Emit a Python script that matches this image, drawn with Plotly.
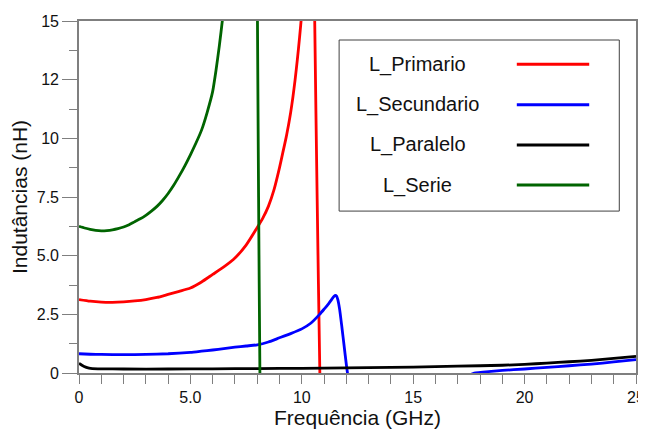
import plotly.graph_objects as go

# ---- data ----
series_names = ["L_Primario", "L_Secundario", "L_Paralelo", "L_Serie"]
series_colors = ["#ff0000", "#0000ff", "#000000", "#006400"]

# L_Primario (red)
prim_f = [0, 0.5, 1, 1.5, 2, 2.5, 3, 3.5, 4, 4.5, 5, 5.5, 6, 6.5, 7, 7.5, 8, 8.25, 8.5, 8.75,
          9, 9.15, 9.3, 9.4, 9.5, 9.6, 9.7, 9.8, 9.9, 10.0, 10.1,
          None,
          10.5, 10.58, 10.69, 10.81, 10.84]
prim_l = [3.13, 3.06, 3.02, 3.01, 3.03, 3.07, 3.13, 3.22, 3.35, 3.48, 3.62, 3.88, 4.2, 4.52, 4.9, 5.45, 6.2, 6.6, 7.1, 7.8,
          8.75, 9.4, 10.05, 10.55, 11.1, 11.75, 12.5, 13.35, 14.3, 15.35, 16.6,
          None,
          25.0, 15.0, 7.4, 0.0, -1.0]

# L_Secundario (blue)
sec_f = [0, 0.5, 1, 2, 3, 4, 5, 5.5, 6, 6.5, 7, 7.5, 8, 8.5, 9, 9.5, 10, 10.4, 10.8, 11.0, 11.2,
         11.35, 11.45, 11.51, 11.56, 11.62, 11.7, 11.8, 11.9, 12.0, 12.05, 12.1,
         None,
         17.6, 17.74, 18.5, 19, 20, 21, 22, 23, 24, 25]
sec_l = [0.82, 0.8, 0.79, 0.78, 0.79, 0.82, 0.88, 0.93, 0.98, 1.04, 1.1, 1.15, 1.2, 1.32, 1.5, 1.68, 1.88, 2.12, 2.5, 2.72, 2.95,
         3.15, 3.27, 3.31, 3.28, 3.12, 2.7, 1.95, 1.15, 0.35, 0.0, -0.4,
         None,
         -0.05, 0.0, 0.07, 0.11, 0.17, 0.24, 0.31, 0.38, 0.47, 0.57]

# L_Paralelo (black)
par_f = [0, 0.05, 0.15, 0.3, 0.45, 0.6, 1, 2, 4, 6, 8, 10, 12, 14, 16, 18, 19, 20, 21, 22, 23, 24, 25]
par_l = [0.4, 0.38, 0.32, 0.25, 0.21, 0.19, 0.18, 0.17, 0.17, 0.18, 0.19, 0.2, 0.22, 0.24, 0.27, 0.31, 0.33, 0.37, 0.42, 0.48, 0.54, 0.62, 0.71]

# L_Serie (green)
serie_f = [0, 0.25, 0.5, 0.75, 1, 1.25, 1.5, 1.75, 2, 2.25, 2.5, 2.75, 3, 3.25, 3.5, 3.75, 4, 4.25, 4.5, 4.75,
           5, 5.25, 5.5, 5.75, 6, 6.15, 6.3, 6.45, 6.55,
           None,
           7.95, 8.01, 8.06, 8.12, 8.15]
serie_l = [6.25, 6.18, 6.12, 6.08, 6.06, 6.07, 6.1, 6.15, 6.22, 6.32, 6.45, 6.57, 6.72, 6.9, 7.1, 7.35, 7.65, 8.0, 8.4, 8.83,
           9.3, 9.8, 10.35, 11.1, 12.0, 12.9, 13.95, 15.15, 16.3,
           None,
           25.0, 15.0, 7.5, 0.0, -1.5]

x_ticks = [0, 5, 10, 15, 20, 25]
x_ticklabels = ["0", "5.0", "10", "15", "20", "25"]
y_ticks = [0, 2.5, 5, 7.5, 10, 12.5, 15]
y_ticklabels = ["0", "2.5", "5.0", "7.5", "10", "12", "15"]
y_minor = [1.25, 3.75, 6.25, 8.75, 11.25, 13.75]

x_title = "Frequência (GHz)"
y_title = "Indutâncias (nH)"

FONT = "Liberation Sans, Arial, sans-serif"
AXC = "#7f7f7f"
TXT = "#111111"

fig = go.Figure()
all_f = [prim_f, sec_f, par_f, serie_f]
all_l = [prim_l, sec_l, par_l, serie_l]
for name, col, fx, ly in zip(series_names, series_colors, all_f, all_l):
    fig.add_trace(go.Scatter(x=fx, y=ly, mode="lines", name=name,
                             line=dict(color=col, width=2.8, shape="spline", smoothing=0.5),
                             showlegend=False, connectgaps=False))

# custom legend (text left, line sample right) in paper coordinates
box = dict(x0=0.467, x1=0.970, y0=0.460, y1=0.946)
fig.add_shape(type="rect", xref="paper", yref="paper", **box,
              line=dict(color="#404040", width=1), fillcolor="white", layer="above")
row_y = [0.877, 0.762, 0.648, 0.534]
for name, col, yy in zip(series_names, series_colors, row_y):
    fig.add_annotation(x=0.608, y=yy, xref="paper", yref="paper", text=name,
                       showarrow=False, xanchor="center", yanchor="middle",
                       font=dict(family=FONT, size=20, color=TXT))
    fig.add_shape(type="line", xref="paper", yref="paper", x0=0.786, x1=0.916,
                  y0=yy, y1=yy, line=dict(color=col, width=3), layer="above")

# the page body adds an 8 px offset, so the figure is 8 px smaller and margins shifted
fig.update_layout(
    width=638, height=428,
    margin=dict(l=71, r=10, t=13, b=63, autoexpand=False),
    paper_bgcolor="white", plot_bgcolor="white",
    font=dict(family=FONT, size=16, color=TXT),
    showlegend=False,
)
fig.update_xaxes(
    range=[0, 25], showgrid=False, zeroline=False, automargin=True,
    showline=True, linecolor=AXC, linewidth=1.6, mirror=True,
    tickmode="array", tickvals=x_ticks, ticktext=x_ticklabels,
    ticks="outside", ticklen=9, tickwidth=1.3, tickcolor=AXC,
    tickfont=dict(family=FONT, size=16, color=TXT),
    minor=dict(tickmode="linear", tick0=0, dtick=1, ticks="outside", ticklen=9,
               tickwidth=1.3, tickcolor=AXC, showgrid=False),
    title=dict(text=x_title, font=dict(family=FONT, size=21, color=TXT), standoff=5),
)
fig.update_yaxes(
    range=[0, 15], showgrid=False, zeroline=False, automargin=True,
    showline=True, linecolor=AXC, linewidth=1.6, mirror=True,
    tickmode="array", tickvals=y_ticks, ticktext=y_ticklabels,
    ticks="outside", ticklen=15, tickwidth=1.3, tickcolor=AXC,
    tickfont=dict(family=FONT, size=16, color=TXT),
    minor=dict(tickmode="array", tickvals=y_minor, ticks="outside", ticklen=8,
               tickwidth=1.3, tickcolor=AXC, showgrid=False),
    title=dict(text=y_title, font=dict(family=FONT, size=21, color=TXT), standoff=5),
)

fig.write_html("out.html")
